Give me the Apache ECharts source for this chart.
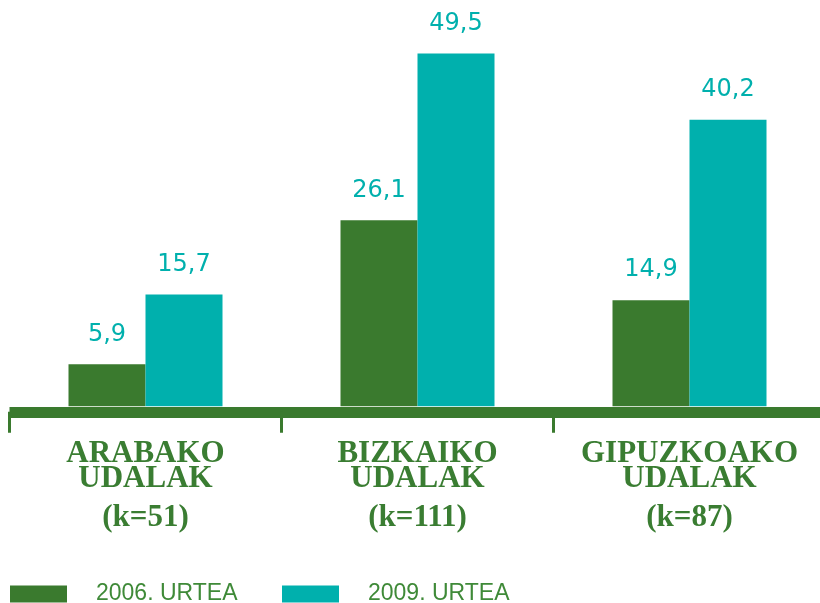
<!DOCTYPE html>
<html>
<head>
<meta charset="utf-8">
<script src="https://cdn.jsdelivr.net/npm/echarts@6/dist/echarts.min.js"></script>
<style>
html, body { margin: 0; padding: 0; background: #fff; }
#main { width: 820px; height: 603px; }
</style>
</head>
<body>
<div id="main"></div>
<script>
// udalak eta urteak
var categories = ['ARABAKO\nUDALAK', 'BIZKAIKO\nUDALAK', 'GIPUZKOAKO\nUDALAK'];
var kLabels = ['(k=51)', '(k=111)', '(k=87)'];
var seriesNames = ['2006. URTEA', '2009. URTEA'];
var values2006 = [5.9, 26.1, 14.9];
var values2009 = [15.7, 49.5, 40.2];

var green = '#3a7a2e';
var teal = '#00b0ad';

var fmtComma = function (p) {
    return String(p.value).replace('.', ',');
};

var chart = echarts.init(document.getElementById('main'));

var option = {
    animation: false,
    grid: { left: 9.5, right: -5.5, top: 50, bottom: 191.2, outerBoundsMode: 'none', containLabel: false },
    legend: {
        left: 10,
        top: 582,
        padding: 0,
        itemWidth: 57,
        itemHeight: 17,
        itemGap: 43,
        icon: 'rect',
        textStyle: {
            fontFamily: 'Liberation Sans',
            fontSize: 23,
            lineHeight: 24,
            color: '#3f8a38',
            padding: [0, 0, 0, 24],
            width: 143
        },
        data: seriesNames
    },
    xAxis: {
        type: 'category',
        data: categories,
        z: 10,
        axisLine: { onZero: false, lineStyle: { color: green, width: 11, cap: 'butt' } },
        axisTick: { show: true, length: 21, lineStyle: { color: green, width: 3 } },
        axisLabel: {
            margin: 30,
            interval: 0,
            formatter: function (v, i) {
                var parts = v.split('\n');
                return '{t|' + parts[0] + '}\n{t|' + parts[1] + '}\n{k|' + kLabels[i] + '}';
            },
            rich: {
                t: {
                    fontFamily: 'Liberation Serif',
                    fontWeight: 'bold',
                    fontSize: 31,
                    lineHeight: 25,
                    color: '#3a7d32'
                },
                k: {
                    fontFamily: 'Liberation Serif',
                    fontWeight: 'bold',
                    fontSize: 31,
                    lineHeight: 52,
                    color: '#3a7d32'
                }
            }
        }
    },
    yAxis: {
        type: 'value',
        min: -0.77,
        max: 50,
        show: false,
        splitLine: { show: false }
    },
    series: [{
        name: seriesNames[0],
        type: 'bar',
        barWidth: 77,
        barGap: '0%',
        itemStyle: { color: green },
        label: {
            show: true,
            position: 'top',
            distance: 18,
            formatter: fmtComma,
            fontFamily: 'DejaVu Sans',
            fontSize: 24,
            color: teal
        },
        data: values2006
    }, {
        name: seriesNames[1],
        type: 'bar',
        barWidth: 77,
        barGap: '0%',
        itemStyle: { color: teal },
        label: {
            show: true,
            position: 'top',
            distance: 18,
            formatter: fmtComma,
            fontFamily: 'DejaVu Sans',
            fontSize: 24,
            color: teal
        },
        data: values2009
    }]
};

chart.setOption(option);
</script>
</body>
</html>
